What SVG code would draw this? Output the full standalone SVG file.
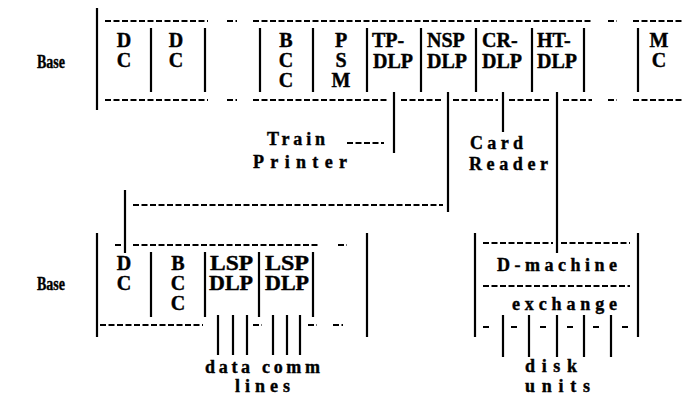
<svg xmlns="http://www.w3.org/2000/svg" width="684" height="395" viewBox="0 0 684 395">
<style>
text{font-family:"Liberation Serif","Times New Roman",serif;font-weight:bold;fill:#000;stroke:#000;stroke-width:0.4}
.lb{font-size:20px;text-anchor:middle}
.ls{font-size:20px}
.sp{font-size:18px}
.v{stroke:#000;stroke-width:2.2;fill:none}
.d{stroke:#000;stroke-width:2.2;fill:none;stroke-dasharray:6 2.5}
</style>
<rect width="684" height="395" fill="#fff" stroke="none"/>
<g id="top-base">
<text class="sp" x="37" y="68" textLength="28" lengthAdjust="spacingAndGlyphs">Base</text>
<path class="v" d="M97 8V110M151 28V92M205 28V92M260 28V92M313 28V92M367 28V92M421 28V92M476 28V92M532 28V92M584 28V92M638 28V92"/>
<path class="d" d="M105 21H208M227 21H237M253 21H592M608 21H617M633 21H684M105 100H208M227 100H237M253 100H389M401 100H443M453 100H498M509 100H551M563 100H592M608 100H617M633 100H684"/>
<g id="dc1"><text class="lb" x="124" y="47">D</text><text class="lb" x="124" y="67">C</text></g>
<g id="dc2"><text class="lb" x="176" y="47">D</text><text class="lb" x="176" y="67">C</text></g>
<g id="bcc1"><text class="lb" x="286" y="47">B</text><text class="lb" x="286" y="67">C</text><text class="lb" x="286" y="87">C</text></g>
<g id="psm"><text class="lb" x="341" y="47">P</text><text class="lb" x="341" y="67">S</text><text class="lb" x="341" y="87">M</text></g>
<g id="tp-dlp"><text class="ls" x="372" y="47">TP-</text><text class="ls" x="373" y="68">DLP</text></g>
<g id="nsp-dlp"><text class="ls" x="427" y="47">NSP</text><text class="ls" x="427" y="68">DLP</text></g>
<g id="cr-dlp"><text class="ls" x="482" y="47">CR-</text><text class="ls" x="482" y="68">DLP</text></g>
<g id="ht-dlp"><text class="ls" x="537" y="47">HT-</text><text class="ls" x="537" y="68">DLP</text></g>
<g id="mc"><text class="lb" x="659" y="47">M</text><text class="lb" x="659" y="67">C</text></g>
</g>
<g id="train-printer">
<text class="sp" x="267" y="145" textLength="58" lengthAdjust="spacing">Train</text>
<text class="sp" x="253" y="168" textLength="94" lengthAdjust="spacing">Printer</text>
</g>
<g id="card-reader">
<text class="sp" x="470" y="149" textLength="53" lengthAdjust="spacing">Card</text>
<text class="sp" x="469" y="170" textLength="79" lengthAdjust="spacing">Reader</text>
</g>
<g id="connectors">
<path class="v" d="M394 92V153M448 92V212M125 190V253M503 92V132M557 92V253"/>
<path class="d" d="M347 143H384M133 205H443"/>
</g>
<g id="bottom-base">
<text class="sp" x="37" y="290" textLength="28" lengthAdjust="spacingAndGlyphs">Base</text>
<path class="v" d="M97 233V337M367 233V337M151 252V317M205 252V317M259 252V317M313 252V317M218 315V355M233 315V355M247 315V355M273 315V355M287 315V355M300 315V355"/>
<path class="d" d="M115 245H122M133 245H320M338 245H347M100 325H203M253 325H262M308 325H317M333 325H343"/>
<g id="dc3"><text class="lb" x="124" y="270">D</text><text class="lb" x="124" y="290">C</text></g>
<g id="bcc2"><text class="lb" x="178" y="270">B</text><text class="lb" x="178" y="290">C</text><text class="lb" x="178" y="310">C</text></g>
<g id="lsp1"><text class="ls" x="210" y="270" textLength="43" lengthAdjust="spacingAndGlyphs">LSP</text><text class="ls" x="209" y="290" textLength="44" lengthAdjust="spacingAndGlyphs">DLP</text></g>
<g id="lsp2"><text class="ls" x="265" y="270" textLength="44" lengthAdjust="spacingAndGlyphs">LSP</text><text class="ls" x="265" y="290" textLength="44" lengthAdjust="spacingAndGlyphs">DLP</text></g>
<text class="sp" x="205" y="373" textLength="115" lengthAdjust="spacing">data comm</text>
<text class="sp" x="235" y="392" textLength="55" lengthAdjust="spacing">lines</text>
</g>
<g id="d-machine">
<path class="v" d="M475 233V337M638 233V337M503 315V357M529 315V357M557 315V357M584 315V357M611 315V357"/>
<path class="d" d="M483 243H553M561 243H630M483 286H630M483 327H490M511 327H518M540 327H547M567 327H573M593 327H600M622 327H630"/>
<text class="sp" x="497" y="271" textLength="120" lengthAdjust="spacing">D-machine</text>
<text class="sp" x="512" y="310" textLength="105" lengthAdjust="spacing">exchange</text>
<text class="sp" x="525" y="372" textLength="52" lengthAdjust="spacing">disk</text>
<text class="sp" x="525" y="392" textLength="65" lengthAdjust="spacing">units</text>
</g>
</svg>
